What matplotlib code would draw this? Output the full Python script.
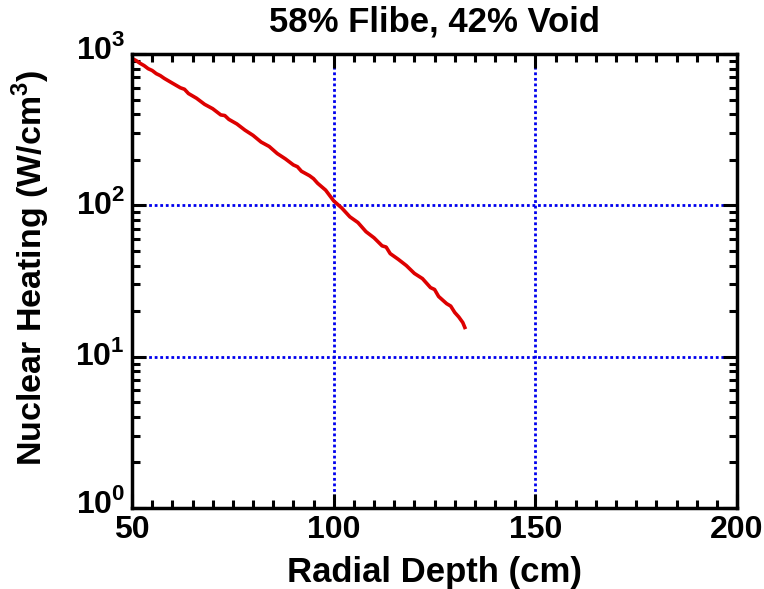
import numpy as np
import matplotlib
matplotlib.use('Agg')
from matplotlib import pyplot as plt
from matplotlib import transforms
from matplotlib.ticker import FixedLocator, MultipleLocator, LogLocator, NullFormatter

plt.rcParams['font.family'] = ['Liberation Sans', 'DejaVu Sans']
plt.rcParams['font.weight'] = 'bold'
plt.rcParams['mathtext.fontset'] = 'custom'
plt.rcParams['mathtext.rm'] = 'Liberation Sans:bold'
plt.rcParams['mathtext.bf'] = 'Liberation Sans:bold'

# radial depth (cm) and nuclear heating (W/cm^3)
depth = [50, 51, 52, 53, 54, 55, 56, 57, 58, 60, 62, 63, 64, 66, 68, 70, 72, 73, 74, 76,
         78, 80, 82, 84, 86, 88, 90, 91, 92, 94, 95, 96, 98, 100, 102, 104, 106, 108,
         110, 112, 113, 114, 116, 118, 120, 122, 124, 125, 126, 128, 129, 130, 131, 132, 132.5]
heating = [935, 905, 868, 838, 800, 778, 742, 720, 690, 642, 598, 585, 548, 510, 465, 435,
           396, 392, 370, 345, 314, 290, 262, 245, 220, 203, 185, 180, 168, 157, 150, 140,
           126, 107, 96, 84, 77, 67, 61, 54, 53, 48, 44, 40, 35.5, 32.8, 28.6, 27.8, 25.0,
           22.4, 21.6, 19.6, 18.3, 16.8, 15.6]

xticks = [50, 100, 150, 200]
yticks = [1, 10, 100, 1000]
ytick_labels = [r'$10^{0}$', r'$10^{1}$', r'$10^{2}$', r'$10^{3}$']

fig = plt.figure(figsize=(7.64, 5.89), dpi=100)
ax = fig.add_axes([0.1728, 0.1375, 0.792, 0.7708])

ax.plot(depth, heating, color='#dd0000', lw=2.6)

ax.set_yscale('log')
ax.set_xlim(50, 200)
ax.set_ylim(1, 1000)

ax.xaxis.set_major_locator(FixedLocator(xticks))
ax.xaxis.set_minor_locator(MultipleLocator(5))
ax.yaxis.set_major_locator(FixedLocator(yticks))
ax.yaxis.set_minor_locator(LogLocator(base=10, subs=np.arange(2, 10)))
ax.yaxis.set_minor_formatter(NullFormatter())
ax.set_yticklabels(ytick_labels)
ax.set_xticklabels([str(t) for t in xticks])

ax.tick_params(which='both', direction='in', top=True, right=True, width=2.2, labelsize=23)
ax.tick_params(which='major', length=10, pad=5)
ax.tick_params(which='minor', length=6)
for s in ax.spines.values():
    s.set_linewidth(2.5)

# nudge the y tick labels up (superscript pushes the digits down)
shifts = [8, 4, 4, 8]
for lab, dy in zip(ax.get_yticklabels(), shifts):
    lab.set_transform(lab.get_transform() + transforms.ScaledTranslation(0, dy / 100, fig.dpi_scale_trans))

ax.grid(True, which='major', color='#0000ee', linestyle=(0, (1, 1)), lw=2)

ax.set_xlabel('Radial Depth (cm)', fontsize=25, fontweight='bold', labelpad=8)
ax.set_ylabel(r'Nuclear Heating (W/cm$^{3}$)', fontsize=24.5, fontweight='bold')
ax.yaxis.set_label_coords(-0.133, 0.529)
ax.set_title('58% Flibe, 42% Void', fontsize=25, fontweight='bold', pad=16)

plt.savefig('out.png', dpi=100)
